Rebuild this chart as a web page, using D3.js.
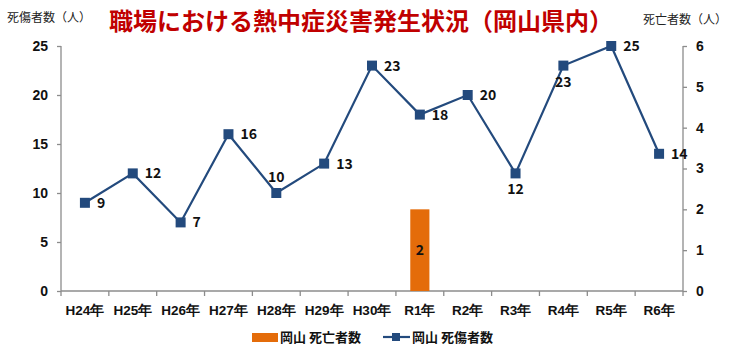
<!DOCTYPE html>
<html>
<head>
<meta charset="utf-8">
<script src="https://cdn.jsdelivr.net/npm/d3@7/dist/d3.min.js"></script>
<style>
  html, body { margin: 0; padding: 0; background: #fff; }
  svg { display: block; font-family: "Noto Sans CJK JP", "Noto Sans", sans-serif; }
</style>
</head>
<body>
<svg id="chart" width="730" height="349"></svg>
<script>
// 年度区分
const years = ["H24年","H25年","H26年","H27年","H28年","H29年","H30年","R1年","R2年","R3年","R4年","R5年","R6年"];
// 死傷者数（左軸）
const casualties = [9, 12, 7, 16, 10, 13, 23, 18, 20, 12, 23, 25, 14];
// 死亡者数（右軸）
const deaths = [0, 0, 0, 0, 0, 0, 0, 2, 0, 0, 0, 0, 0];
// 軸目盛
const leftTicks = [0, 5, 10, 15, 20, 25];
const rightTicks = [0, 1, 2, 3, 4, 5, 6];
// ラベル位置（right / above / below）
const labelPos = ["right","right","right","right","above","right","right","right","right","below","below","right","right"];

const svg = d3.select("#chart");
const m = { left: 61, right: 683, top: 46, bottom: 291 };

const x = d3.scaleBand().domain(years).range([m.left, m.right]);
const yL = d3.scaleLinear().domain([0, 25]).range([m.bottom, m.top]);
const yR = d3.scaleLinear().domain([0, 6]).range([m.bottom, m.top]);

const axisColor = "#8c8c8c";
const lineColor = "#234a7d";
const barColor = "#e46c0a";

// タイトル
svg.append("text")
  .attr("x", 361).attr("y", 30)
  .attr("text-anchor", "middle")
  .attr("fill", "#c00000")
  .attr("font-size", 24).attr("font-weight", "bold")
  .text("職場における熱中症災害発生状況（岡山県内）");

svg.append("text").attr("x", 7).attr("y", 22)
  .attr("font-size", 12).attr("fill", "#222")
  .text("死傷者数（人）");
svg.append("text").attr("x", 643).attr("y", 24)
  .attr("font-size", 12).attr("fill", "#222")
  .text("死亡者数（人）");

// 左軸
const gL = svg.append("g").attr("transform", `translate(${m.left},0)`)
  .call(d3.axisLeft(yL).tickValues(leftTicks).tickSize(4).tickPadding(9));
// 右軸
const gR = svg.append("g").attr("transform", `translate(${m.right},0)`)
  .call(d3.axisRight(yR).tickValues(rightTicks).tickFormat(d3.format("d")).tickSize(4).tickPadding(9));
// 横軸
const gX = svg.append("g").attr("transform", `translate(0,${m.bottom})`)
  .call(d3.axisBottom(x).tickSize(0).tickPadding(14));
gX.selectAll(".tick").append("line")
  .attr("x1", -x.bandwidth() / 2).attr("x2", -x.bandwidth() / 2)
  .attr("y1", 0).attr("y2", 5);
gX.append("line").attr("x1", m.right).attr("x2", m.right).attr("y1", 0).attr("y2", 5);

[gL, gR, gX].forEach(g => {
  g.selectAll(".domain").attr("stroke", axisColor).attr("stroke-width", 1.3);
  g.selectAll("line").attr("stroke", axisColor).attr("stroke-width", 1.3);
  g.selectAll("text").attr("font-size", 14).attr("font-weight", "bold").attr("fill", "#111");
});
gL.select(".domain").attr("d", `M-0,${m.top}V${m.bottom}`);
gR.select(".domain").attr("d", `M0,${m.top}V${m.bottom}`);
gX.select(".domain").attr("d", `M${m.left},0H${m.right}`);
gX.selectAll(".tick text").attr("font-size", 13.5);

// 死亡者数（棒）
const bw = x.bandwidth() * 0.4;
const barData = years.map((d, i) => ({ year: d, v: deaths[i] })).filter(d => d.v > 0);
svg.append("g").selectAll("rect")
  .data(barData)
  .join("rect")
  .attr("x", d => x(d.year) + (x.bandwidth() - bw) / 2)
  .attr("width", bw)
  .attr("y", d => yR(d.v))
  .attr("height", d => yR(0) - yR(d.v))
  .attr("fill", barColor);
svg.append("g").selectAll("text")
  .data(barData)
  .join("text")
  .attr("x", d => x(d.year) + x.bandwidth() / 2)
  .attr("y", d => (yR(d.v) + yR(0)) / 2 + 5)
  .attr("text-anchor", "middle")
  .attr("font-size", 14).attr("font-weight", "bold").attr("fill", "#111")
  .text(d => d.v);

// 死傷者数（折れ線）
const pts = years.map((d, i) => ({ year: d, v: casualties[i], pos: labelPos[i] }));
const cx = d => x(d.year) + x.bandwidth() / 2;
svg.append("path")
  .datum(pts)
  .attr("fill", "none")
  .attr("stroke", lineColor)
  .attr("stroke-width", 2.2)
  .attr("d", d3.line().x(cx).y(d => yL(d.v)));
svg.append("g").selectAll("rect")
  .data(pts).join("rect")
  .attr("x", d => cx(d) - 5).attr("y", d => yL(d.v) - 5)
  .attr("width", 10).attr("height", 10)
  .attr("fill", lineColor);
svg.append("g").selectAll("text")
  .data(pts).join("text")
  .attr("x", d => d.pos === "right" ? cx(d) + 12 : cx(d))
  .attr("y", d => d.pos === "right" ? yL(d.v) + 5 : d.pos === "above" ? yL(d.v) - 11 : yL(d.v) + 21)
  .attr("text-anchor", d => d.pos === "right" ? "start" : "middle")
  .attr("font-size", 14).attr("font-weight", "bold").attr("fill", "#111")
  .text(d => d.v);

// 凡例
const lg = svg.append("g");
lg.append("rect").attr("x", 252).attr("y", 333).attr("width", 26).attr("height", 9).attr("fill", barColor);
lg.append("text").attr("x", 280).attr("y", 342).attr("font-size", 13).attr("font-weight", "bold").attr("fill", "#111").text("岡山 死亡者数");
lg.append("line").attr("x1", 383).attr("x2", 410).attr("y1", 337).attr("y2", 337).attr("stroke", lineColor).attr("stroke-width", 2.2);
lg.append("rect").attr("x", 392).attr("y", 333).attr("width", 8).attr("height", 8).attr("fill", lineColor);
lg.append("text").attr("x", 412).attr("y", 342).attr("font-size", 13).attr("font-weight", "bold").attr("fill", "#111").text("岡山 死傷者数");
</script>
</body>
</html>
